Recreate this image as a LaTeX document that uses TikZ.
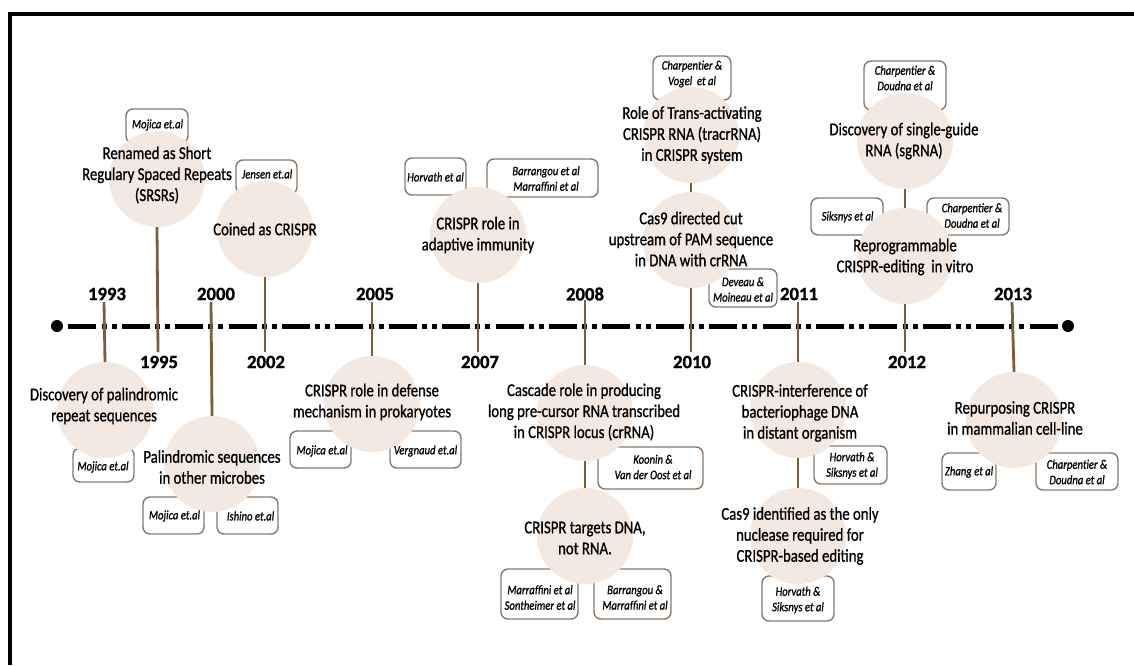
\documentclass[tikz,border=0pt]{standalone}
\usepackage{fontspec}
\setmainfont{Carlito}[FakeStretch=0.82,FakeBold=0.9]
\newfontfamily\yearfont{Carlito}[FakeBold=1.2]
\definecolor{bubfill}{RGB}{243,233,224}
\definecolor{tickc}{RGB}{125,94,60}
\definecolor{boxc}{RGB}{140,120,105}
\begin{document}
\begin{tikzpicture}[x=1pt,y=-1pt,
 bub/.style={circle, fill=bubfill, draw=none, minimum size=96pt, inner sep=0pt},
 btxt/.style={align=center, font=\fontsize{18}{21}\selectfont, inner sep=0pt},
 cbox/.style={draw=boxc, line width=1.4pt, rounded corners=7pt, fill=white, inner sep=0pt},
 ctxt/.style={align=center, font=\fontsize{13}{15.5}\selectfont\itshape, inner sep=0pt},
 yr/.style={font={\yearfont\bfseries\fontsize{18.7}{20}\selectfont}, inner sep=0pt},
 tick/.style={draw=tickc, line width=2.8pt},
 tline/.style={line width=5pt, dash pattern=on 28pt off 5.2pt on 5pt off 5pt on 5pt off 5.2pt, dash phase=48.2pt},
 dotn/.style={circle, fill=black, minimum size=12pt, inner sep=0pt},
]
\useasboundingbox (0,0) rectangle (1134,665);
\fill[white] (0,0) rectangle (1134,665);
% frame
\draw[line width=4.6pt] (10,665) -- (10,14) -- (1134,14);

% timeline
\node[dotn] (d1) at (57,326) {};
\node[dotn] (d2) at (1068,326) {};
\draw[tline] (d1) -- (d2);

% citation boxes
\node[cbox, minimum width=61pt, minimum height=34pt] (b1) at (103.5,465) {};
\node[cbox, minimum width=62pt, minimum height=34pt] (b2) at (157,126) {};
\node[cbox, minimum width=61pt, minimum height=37pt] (b3) at (173.5,515.5) {};
\node[cbox, minimum width=61pt, minimum height=37pt] (b4) at (247.5,515.5) {};
\node[cbox, minimum width=61pt, minimum height=34pt] (b5) at (266.5,177) {};
\node[cbox, minimum width=61pt, minimum height=37pt] (b6) at (320.5,449.5) {};
\node[cbox, minimum width=71pt, minimum height=37pt] (b7) at (425.5,449.5) {};
\node[cbox, minimum width=61pt, minimum height=37pt] (b8) at (435.5,176.5) {};
\node[cbox, minimum width=111pt, minimum height=38pt] (b9) at (542.5,178) {};
\node[cbox, minimum width=105pt, minimum height=42pt] (b10) at (650.5,468) {};
\node[cbox, minimum width=77pt, minimum height=50pt] (b11) at (539.5,594) {};
\node[cbox, minimum width=77pt, minimum height=50pt] (b12) at (632.5,594) {};
\node[cbox, minimum width=78pt, minimum height=44pt] (b13) at (692,78) {};
\node[cbox, minimum width=68pt, minimum height=38pt] (b14) at (743,288) {};
\node[cbox, minimum width=73pt, minimum height=38pt] (b15) at (850.5,465) {};
\node[cbox, minimum width=72pt, minimum height=45pt] (b16) at (798,598.5) {};
\node[cbox, minimum width=82pt, minimum height=49pt] (b17) at (905,85.5) {};
\node[cbox, minimum width=72pt, minimum height=37pt] (b18) at (847,216.5) {};
\node[cbox, minimum width=82pt, minimum height=37pt] (b19) at (968,216.5) {};
\node[cbox, minimum width=54pt, minimum height=37pt] (b20) at (969,471.5) {};
\node[cbox, minimum width=82pt, minimum height=37pt] (b21) at (1077,471.5) {};

% bubbles
\node[bub] (cA) at (105,410) {};
\node[bub] (cB) at (157,179) {};
\node[bub] (cC) at (212,464) {};
\node[bub] (cD) at (265,229) {};
\node[bub] (cE) at (372,404) {};
\node[bub] (cF) at (478,235) {};
\node[bub] (cG) at (585,413) {};
\node[bub] (cH) at (585,536) {};
\node[bub] (cI) at (691,135) {};
\node[bub] (cJ) at (691,240) {};
\node[bub] (cK) at (798,410) {};
\node[bub] (cL) at (798,536) {};
\node[bub] (cM) at (905,141) {};
\node[bub] (cN) at (905,256) {};
\node[bub] (cO) at (1014,420) {};

% tick ends
\coordinate (k1993) at (104,302);
\coordinate (k1995) at (158,352);
\coordinate (k2000) at (211,302);
\coordinate (k2002) at (265,352);
\coordinate (k2005) at (372,302);
\coordinate (k2007) at (478,352);
\coordinate (k2008) at (585,300);
\coordinate (k2010) at (691,352);
\coordinate (k2011) at (798,302);
\coordinate (k2012) at (905,352);
\coordinate (k2013) at (1012,302);

\draw[tick] (k1993) -- (cA.north);
\draw[tick] (cB.south) -- (k1995);
\draw[tick] (k2000) -- (cC.north);
\draw[tick] (cD.south) -- (k2002);
\draw[tick] (k2005) -- (cE.north);
\draw[tick] (cF.south) -- (k2007);
\draw[tick] (k2008) -- (cG.north);
\draw[tick] (cG.south) -- (cH.north);
\draw[tick] (cI.south) -- (cJ.north);
\draw[tick] (cJ.south) -- (k2010);
\draw[tick] (k2011) -- (cK.north);
\draw[tick] (cK.south) -- (cL.north);
\draw[tick] (cM.south) -- (cN.north);
\draw[tick] (cN.south) -- (k2012);
\draw[tick] (k2013) -- (cO.north);

% years
\node[yr] (y1993) at (107,294) {1993};
\node[yr] (y1995) at (159,362) {1995};
\node[yr] (y2000) at (216,294) {2000};
\node[yr] (y2002) at (266,362) {2002};
\node[yr] (y2005) at (375,294) {2005};
\node[yr] (y2007) at (480,362) {2007};
\node[yr] (y2008) at (585,294) {2008};
\node[yr] (y2010) at (692,362) {2010};
\node[yr] (y2011) at (799,294) {2011};
\node[yr] (y2012) at (907,362) {2012};
\node[yr] (y2013) at (1013,294) {2013};

% bubble texts
\node[btxt] (tA) at (104,406) {Discovery of palindromic\\repeat sequences};
\node[btxt] (tB) at (157,175) {Renamed as Short\\Regulary Spaced Repeats\\(SRSRs)};
\node[btxt] (tC) at (212,467) {Palindromic sequences\\in other microbes};
\node[btxt] (tD) at (265,229) {Coined as CRISPR};
\node[btxt] (tE) at (372,402) {CRISPR role in defense\\mechanism in prokaryotes};
\node[btxt] (tF) at (478,235) {CRISPR role in\\adaptive immunity};
\node[btxt] (tG) at (584,412) {Cascade role in producing\\long pre-cursor RNA transcribed\\in CRISPR locus (crRNA)};
\node[btxt] (tH) at (585,538) {CRISPR targets DNA,\\not RNA.};
\node[btxt] (tI) at (692,135) {Role of Trans-activating\\CRISPR RNA (tracrRNA)\\in CRISPR system};
\node[btxt] (tJ) at (691,239) {Cas9 directed cut\\upstream of PAM sequence\\in DNA with crRNA};
\node[btxt] (tK) at (800,413) {CRISPR-interference of\\bacteriophage DNA\\in distant organism};
\node[btxt] (tL) at (800,536) {Cas9 identified as the only\\nuclease required for\\CRISPR-based editing};
\node[btxt] (tM) at (904,141) {Discovery of single-guide\\RNA (sgRNA)};
\node[btxt] (tN) at (905,257) {Reprogrammable\\CRISPR-editing\ \ in vitro};
\node[btxt] (tO) at (1015,418) {Repurposing CRISPR\\in mammalian cell-line};

% citation texts
\node[ctxt] (t1) at (103,467) {Mojica et.al};
\node[ctxt] (t2) at (157.5,125) {Mojica et.al};
\node[ctxt] (t3) at (174.5,516) {Mojica et.al};
\node[ctxt] (t4) at (250.5,516) {Ishino et.al};
\node[ctxt] (t5) at (267,174) {Jensen et.al};
\node[ctxt] (t6) at (322,451) {Mojica et.al};
\node[ctxt] (t7) at (425.5,451) {Vergnaud et.al};
\node[ctxt] (t8) at (435.5,177) {Horvath et al};
\node[ctxt] (t9) at (546,178.5) {Barrangou et al\\Marraffini et al};
\node[ctxt] (t10) at (653,467) {Koonin \&\\Van der Oost et al};
\node[ctxt] (t11) at (540,597.5) {Marraffini et al\\Sontheimer et al};
\node[ctxt] (t12) at (635,597.5) {Barrangou \&\\Marraffini et al};
\node[ctxt] (t13) at (692,74) {Charpentier \&\\Vogel\ \ et al};
\node[ctxt] (t14) at (743,289.5) {Deveau \&\\Moineau et al};
\node[ctxt] (t15) at (852,465.5) {Horvath \&\\Siksnys et al};
\node[ctxt] (t16) at (798,600) {Horvath \&\\Siksnys et al};
\node[ctxt] (t17) at (905,78) {Charpentier \&\\Doudna et al};
\node[ctxt] (t18) at (847.5,217) {Siksnys et al};
\node[ctxt] (t19) at (972,215.5) {Charpentier \&\\Doudna et al};
\node[ctxt] (t20) at (969,472) {Zhang et al};
\node[ctxt] (t21) at (1077,472) {Charpentier \&\\Doudna et al};
\end{tikzpicture}
\end{document}
